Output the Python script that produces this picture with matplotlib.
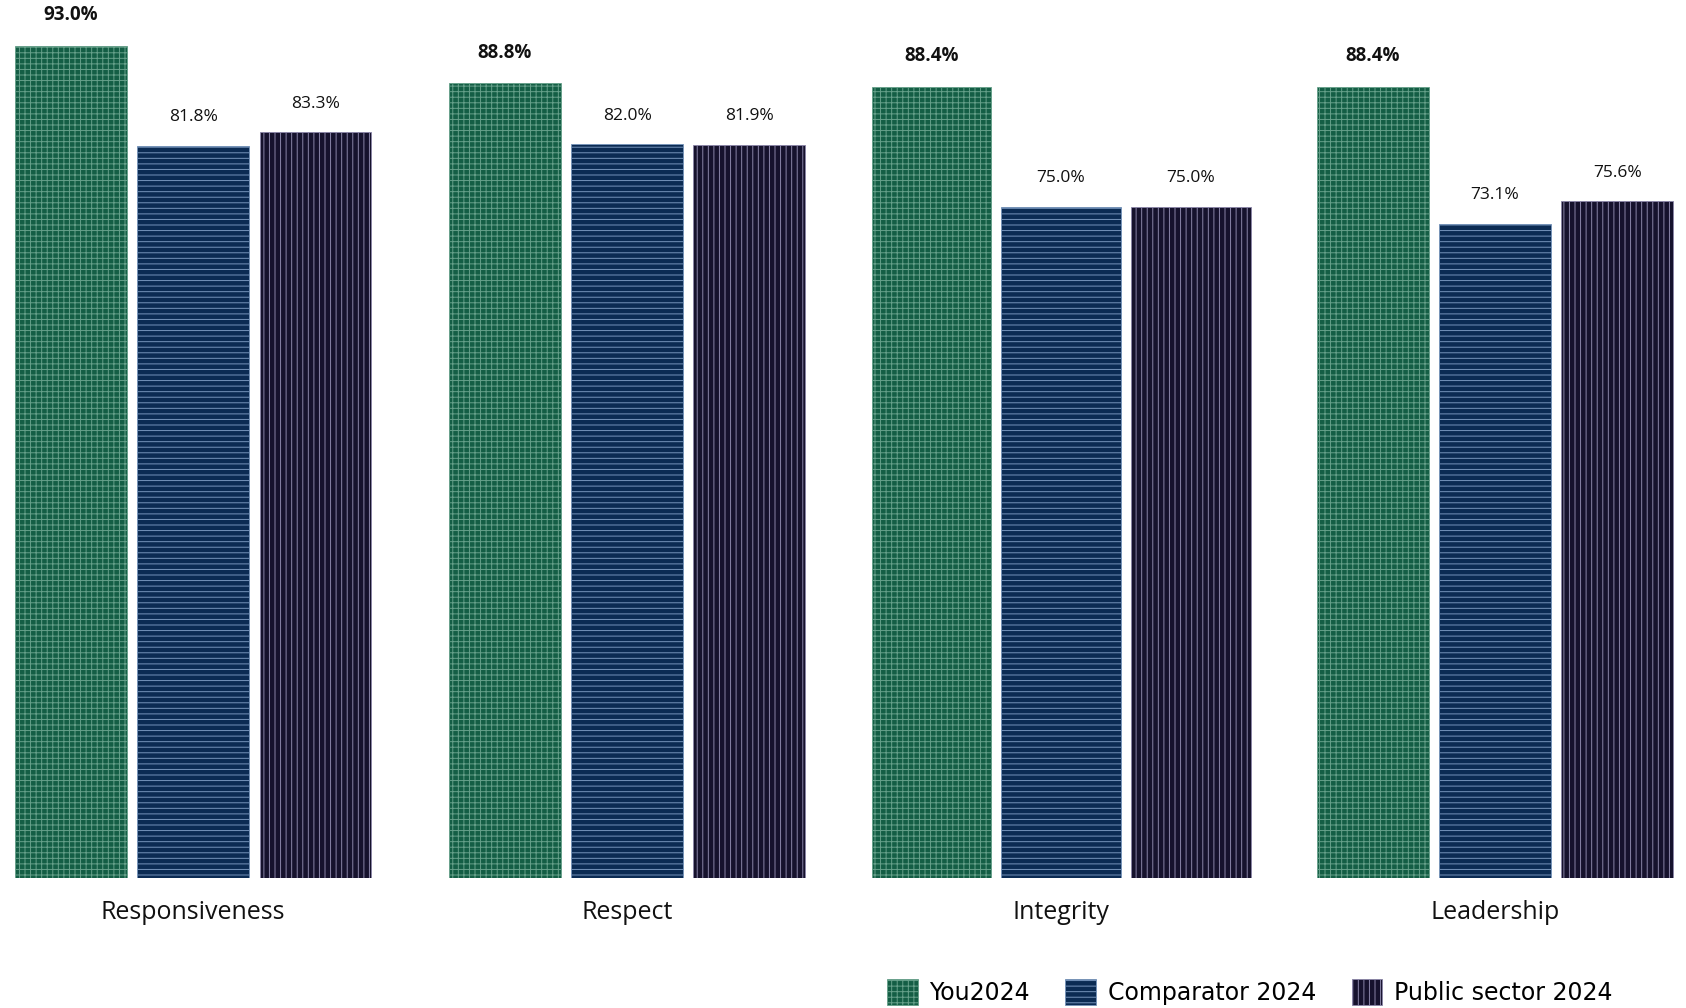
import matplotlib.pyplot as plt
import numpy as np
from matplotlib.patches import Patch

plt.rcParams['font.family'] = ['Open Sans', 'DejaVu Sans']
plt.rcParams['hatch.linewidth'] = 0.7

categories = ["Responsiveness", "Respect", "Integrity", "Leadership"]
legend_labels = ["You2024", "Comparator 2024", "Public sector 2024"]
you = [93.0, 88.8, 88.4, 88.4]
comparator = [81.8, 82.0, 75.0, 73.1]
public = [83.3, 81.9, 75.0, 75.6]

colors = ["#145e45", "#0b2b53", "#16122d"]
hatch_colors = ["#66a08a", "#7694bb", "#8a85a8"]
hatches = ["+++", "---", "|||"]
widths = [0.258, 0.258, 0.275, 0.258]

fig = plt.figure(figsize=(16.86, 10.08), dpi=100)
ax = fig.add_axes([0, 1 - 878 / 1008, 1, 878 / 1008])

x = np.arange(len(categories))
values = [you, comparator, public]
for i, vals in enumerate(values):
    for j, v in enumerate(vals):
        w = widths[j]
        pos = x[j] + (i - 1) * (w + 0.024)
        ax.bar(pos, v, width=w, color=colors[i], edgecolor=hatch_colors[i],
               hatch=hatches[i], linewidth=0.6)
        ax.text(pos, v + 2.3, f"{v:.1f}%", ha="center", va="bottom",
                fontsize=13.5 if i == 0 else 12.5,
                fontweight="bold" if i == 0 else "normal",
                color="#111111")

ax.set_xlim(-0.445, 3.44)
ax.set_ylim(0, 98.1)
ax.axis("off")

for j, c in enumerate(categories):
    ax.text(x[j], -3.9, c, ha="center", va="center", fontsize=18,
            color="#111111")

handles = [Patch(facecolor=colors[i], edgecolor=hatch_colors[i],
                 hatch=hatches[i], linewidth=0.6) for i in range(3)]
fig.legend(handles, legend_labels, loc="center left",
           bbox_to_anchor=(875 / 1686, 16 / 1008), ncol=3, frameon=False,
           handlelength=1.3, handleheight=1.3,
           handletextpad=0.5, columnspacing=1.5, borderpad=0,
           prop={'family': ['Liberation Sans Narrow', 'DejaVu Sans'], 'size': 17})

fig.savefig("out.png", dpi=100)
